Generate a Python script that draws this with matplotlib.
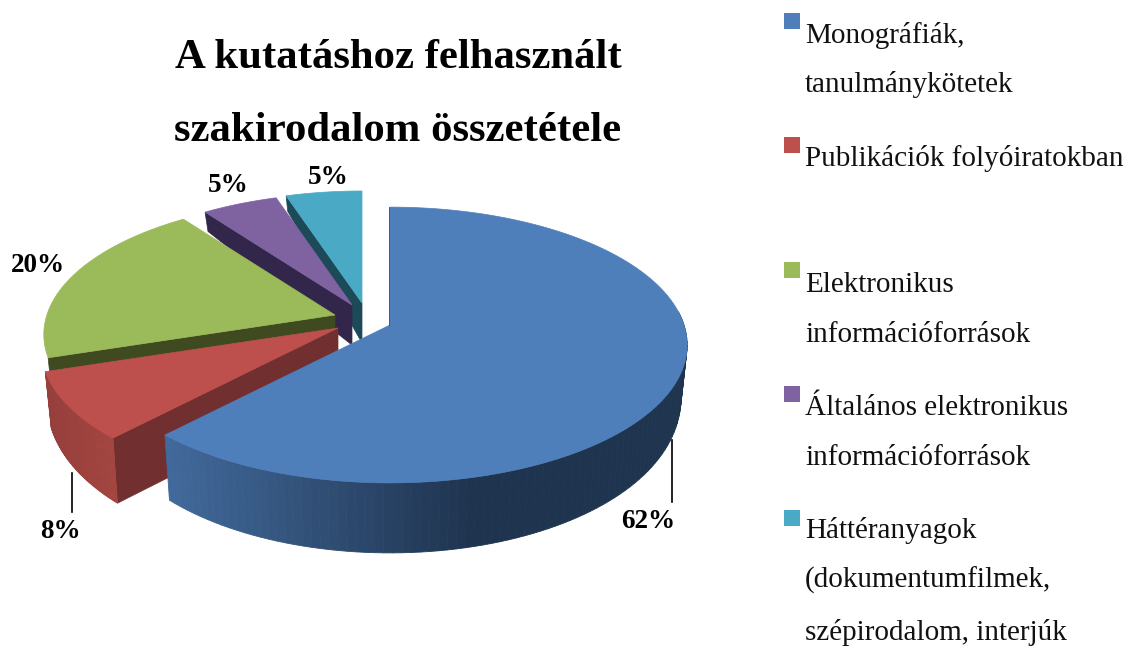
import numpy as np
import matplotlib
matplotlib.use("Agg")
import matplotlib.pyplot as plt

# ── Data ─────────────────────────────────────────────────────────
title_lines = ["A kutatáshoz felhasznált", "szakirodalom összetétele"]
shares = [62, 8, 20, 5, 5]
legend_lines = [
    ["Monográfiák,", "tanulmánykötetek"],
    ["Publikációk folyóiratokban"],
    ["Elektronikus", "információforrások"],
    ["Általános elektronikus", "információforrások"],
    ["Háttéranyagok", "(dokumentumfilmek,", "szépirodalom, interjúk"],
]

# ── Styles ───────────────────────────────────────────────────────
top_colors = ["#4f7fbb", "#bd504c", "#9bba59", "#7f63a1", "#4aaac5"]
wall_colors = [None, "#722f2f", "#3f4a20", "#32264a", "#1d4a58"]
apex = [(390, 325), (338, 328), (335, 315), (352, 305), (362, 303)]
scale = [1.0, 1.0, 0.98, 0.95, 0.95]
apex_depth = [0, 64, 42, 40, 40]
RX, RY, K = 294, 135, 0.145

label_pos = [(648, 521), (60, 531), (38, 265), (228, 185), (328, 177)]
swatch_pos = [(784, 13), (784, 137), (784, 262), (784, 386), (784, 510)]
legend_base = [[43, 92], [166], [292, 342], [415, 465], [538, 588, 640]]

plt.rcParams["font.family"] = ["Liberation Serif", "DejaVu Serif"]
fig = plt.figure(figsize=(11.25, 6.46), dpi=100)
ax = fig.add_axes([0, 0, 1, 1])
ax.set_xlim(0, 1125)
ax.set_ylim(646, 0)
ax.axis("off")


# Disc point at clockwise angle from 12 o'clock, with a simple perspective
def project(theta, i):
    u, v = np.sin(theta), -np.cos(theta)
    s = scale[i] / (1 - K * v)
    return apex[i][0] + RX * u * s, apex[i][1] + RY * v * s, v


def base_point(theta, i):
    x, y, v = project(theta, i)
    depth = 42 + 28 * v ** 0.6 if v > 0 else 42 + 28 * v
    return apex[i][0] + (x - apex[i][0]) * 0.98, y + depth


def mix(c1, c2, t):
    a, b = np.array(matplotlib.colors.to_rgb(c1)), np.array(matplotlib.colors.to_rgb(c2))
    return a + (b - a) * min(max(t, 0), 1)


def outer_wall(i, t0, t1, shade):
    steps = np.linspace(t0, t1, 90)
    for a, b in zip(steps[:-1], steps[1:]):
        xa, ya, _ = project(a, i)
        xb, yb, _ = project(b, i)
        xc, yc = base_point(b, i)
        xd, yd = base_point(a, i)
        col = shade((xa + xb) / 2)
        ax.fill([xa, xb, xc, xd], [ya, yb, yc, yd], color=col, lw=0.6)


# ── Slices, back to front ────────────────────────────────────────
edges = np.cumsum([0] + shares) / sum(shares) * 2 * np.pi
for i in [4, 3, 2, 1, 0]:
    t0, t1 = edges[i], edges[i + 1]
    if wall_colors[i]:
        x0, y0, _ = project(t0, i)
        bx, by = base_point(t0, i)
        ax.fill([apex[i][0], x0, bx, apex[i][0]],
                [apex[i][1], y0, by, apex[i][1] + apex_depth[i]],
                color=wall_colors[i], lw=0.5)
    if i == 0:
        outer_wall(0, np.pi / 2 - 0.1, t1,
                   lambda x: mix("#41699b", "#1f344f", (x - 170) / 300))
        ax.plot([388.5, 388.5], [207, 325], color="#2a4465", lw=0.6)
    if i == 1:
        outer_wall(1, t0, t1, lambda x: mix("#963f3d", "#a3453f", (x - 45) / 65))
    ts = np.linspace(t0, t1, 120)
    xs, ys, _ = project(ts, i)
    ax.fill(np.r_[apex[i][0], xs], np.r_[apex[i][1], ys], color=top_colors[i], lw=0.5)

# ── Leader lines and percent labels ──────────────────────────────
ax.plot([672, 672], [440, 502], color="black", lw=1.2)
ax.plot([72, 72], [473, 512], color="black", lw=1.2)
for (x, y), val in zip(label_pos, shares):
    ax.text(x, y, f"{val}%", ha="center", va="center",
            fontsize=19.5, fontweight="bold", color="black")

# ── Title ────────────────────────────────────────────────────────
for line, y in zip(title_lines, [68, 141]):
    ax.text(398, y, line, ha="center", va="baseline",
            fontsize=30.8, fontweight="bold", color="black")

# ── Legend ───────────────────────────────────────────────────────
for col, (sx, sy), lines, bases in zip(top_colors, swatch_pos, legend_lines, legend_base):
    ax.add_patch(plt.Rectangle((sx, sy), 16, 16, color=col, lw=0))
    for line, y in zip(lines, bases):
        ax.text(805, y, line, ha="left", va="baseline", fontsize=21, color="#111111")

fig.savefig("out.png", dpi=100)
